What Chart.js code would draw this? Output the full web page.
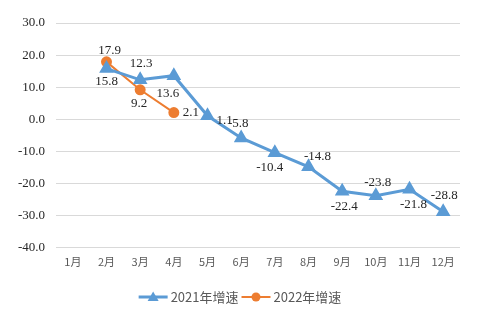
<!DOCTYPE html>
<html><head><meta charset="utf-8">
<script src="https://cdn.jsdelivr.net/npm/chart.js@4"></script>
<style>html,body{margin:0;padding:0;background:#fff}#wrap{width:480px;height:327px}</style>
</head><body><div id="wrap"><canvas id="c" width="480" height="327"></canvas></div>
<script>
const categories = ['1月','2月','3月','4月','5月','6月','7月','8月','9月','10月','11月','12月'];
const series2021 = [null, 15.8, 12.3, 13.6, 1.1, -5.8, -10.4, -14.8, -22.4, -23.8, -21.8, -28.8];
const series2022 = [null, 17.9, 9.2, 2.1, null, null, null, null, null, null, null, null];
const seriesNames = ['2021年增速', '2022年增速'];
const yTicks = [-40, -30, -20, -10, 0, 10, 20, 30];

// label offsets (style only)
const off2021 = [null,[0,13],[1,-16],[-6,18],[17,5],[-3,-14],[-5,15],[9,-10],[2,15],[2,-13],[4,15],[1,-16]];
const off2022 = [null,[3,-11],[-1,14],[17,0]];

const labelPlugin = {
  id:'vlabels',
  afterDatasetsDraw(chart){
    const ctx = chart.ctx;
    ctx.save();
    ctx.font = '13px "Liberation Serif"';
    ctx.fillStyle = '#262626';
    ctx.textAlign = 'center'; ctx.textBaseline = 'middle';
    const offs = [off2021, off2022];
    chart.data.datasets.forEach((ds, di) => {
      const meta = chart.getDatasetMeta(di);
      meta.data.forEach((pt, i) => {
        const v = ds.data[i];
        if (v === null || v === undefined) return;
        const o = offs[di][i] || [0,-12];
        ctx.fillText(v.toFixed(1), pt.x + o[0], pt.y + o[1]);
      });
    });
    ctx.restore();
  }
};

const legendPlugin = {
  id:'customLegend',
  afterDraw(chart){
    const ctx = chart.ctx;
    ctx.save();
    ctx.font = '13px "Noto Sans CJK SC"';
    ctx.textBaseline = 'middle'; ctx.textAlign = 'left';
    const lineW = 29, gap = 3;
    const items = chart.data.datasets.map((ds, i) => ({ ds, w: ctx.measureText(ds.label).width, i }));
    const total = items.reduce((s, it) => s + lineW + gap + it.w, 0) + gap * (items.length - 1);
    let x = chart.width / 2 - total / 2;
    const y = 297;
    items.forEach(it => {
      const c = it.ds.borderColor;
      ctx.strokeStyle = c; ctx.lineWidth = it.ds.borderWidth;
      ctx.beginPath(); ctx.moveTo(x, y); ctx.lineTo(x + lineW, y); ctx.stroke();
      ctx.fillStyle = c; ctx.beginPath();
      const cx = x + lineW / 2;
      if (it.ds.pointStyle === 'triangle') { ctx.moveTo(cx, y - 5.5); ctx.lineTo(cx + 5.5, y + 4); ctx.lineTo(cx - 5.5, y + 4); ctx.closePath(); }
      else { ctx.arc(cx, y, 4.5, 0, Math.PI * 2); }
      ctx.fill();
      x += lineW + gap;
      ctx.fillStyle = '#595959';
      ctx.fillText(it.ds.label, x, y);
      x += it.w + gap;
    });
    ctx.restore();
  }
};

new Chart(document.getElementById('c'), {
  type: 'line',
  data: {
    labels: categories,
    datasets: [
      { label: seriesNames[0], data: series2021, borderColor: '#5B9BD5', backgroundColor: '#5B9BD5',
        borderWidth: 3, pointStyle: 'triangle', pointRadius: 5.5, pointHoverRadius: 5.5, tension: 0 },
      { label: seriesNames[1], data: series2022, borderColor: '#ED7D31', backgroundColor: '#ED7D31',
        borderWidth: 2, pointStyle: 'circle', pointRadius: 4.5, pointHoverRadius: 4.5, tension: 0 }
    ]
  },
  options: {
    responsive: false, animation: false, devicePixelRatio: 1,
    layout: { padding: { left: 0, right: 20, top: 23, bottom: 52 } },
    plugins: {
      tooltip: { enabled: false },
      legend: { display: false }
    },
    scales: {
      x: {
        offset: true,
        grid: { display: false, drawTicks: false },
        border: { display: false },
        ticks: { color: '#595959', font: { family: '"Noto Sans CJK SC"', size: 11 }, padding: 7, maxRotation: 0 }
      },
      y: {
        min: -40, max: 30,
        afterBuildTicks(s){ s.ticks = yTicks.map(v => ({ value: v })); },
        afterFit(s){ s.width = 56; },
        grid: { color: '#d9d9d9', lineWidth: 1, drawTicks: false },
        border: { display: false },
        ticks: { color: '#262626', font: { family: '"Liberation Serif"', size: 13 }, padding: 11,
          callback: v => Number(v).toFixed(1) }
      }
    }
  },
  plugins: [labelPlugin, legendPlugin]
});
</script></body></html>
